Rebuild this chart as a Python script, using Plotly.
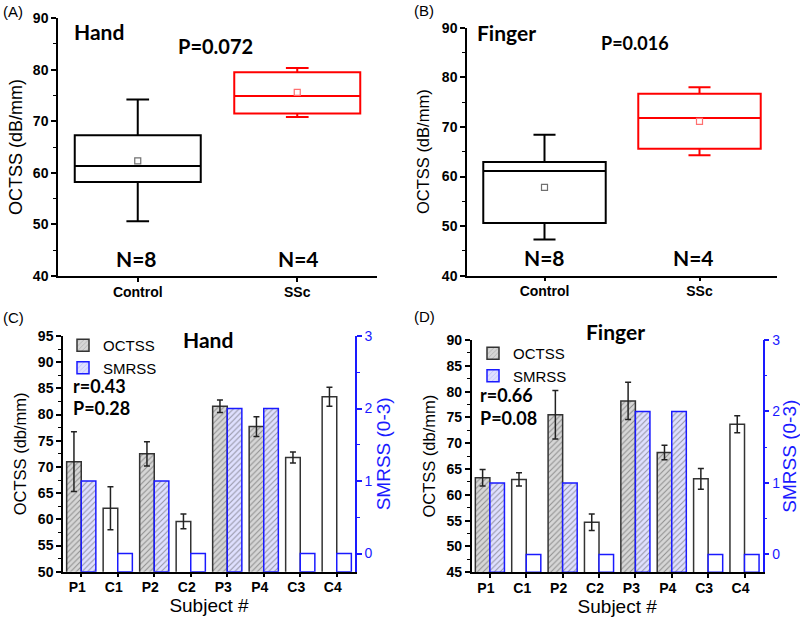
import plotly.graph_objects as go

W, H = 800, 618

# ---------------- Data ----------------
groups = ["Control", "SSc"]
# Panel A (Hand) box stats
hand_q1 = [58.2, 71.5]
hand_median = [61.3, 74.9]
hand_q3 = [67.3, 79.5]
hand_low = [50.6, 70.8]
hand_high = [74.2, 80.3]
hand_mean = [62.3, 75.6]
# Panel B (Finger) box stats
finger_q1 = [50.6, 65.6]
finger_median = [61.1, 71.8]
finger_q3 = [62.9, 76.7]
finger_low = [47.3, 64.3]
finger_high = [68.4, 78.0]
finger_mean = [57.8, 71.1]

subjects = ["P1", "C1", "P2", "C2", "P3", "P4", "C3", "C4"]
hand_octss = [71.0, 62.1, 72.5, 59.6, 81.6, 77.7, 71.8, 83.4]
hand_octss_err = [5.7, 4.1, 2.3, 1.4, 1.2, 1.9, 1.05, 1.8]
hand_smrss = [1, 0, 1, 0, 2, 2, 0, 0]
finger_octss = [63.3, 63.0, 75.5, 54.7, 78.2, 68.2, 63.1, 73.7]
finger_octss_err = [1.6, 1.3, 4.7, 1.6, 3.6, 1.4, 2.0, 1.65]
finger_smrss = [1, 0, 1, 0, 2, 2, 0, 0]

SMRSS_BASE = -0.25

def px_x(p):
    return p / W

def px_y(p):
    return 1 - p / H

fig = go.Figure()

ARIAL = "Liberation Sans, Arial, sans-serif"
BOLDF = "Lato, Liberation Sans, sans-serif"

box_colors = ["#000000", "#ff0000"]
mean_colors = ["#707070", "#ff7070"]

def add_boxes(xa, ya, q1, med, q3, lo, hi, mean):
    for i, g in enumerate(groups):
        fig.add_trace(go.Box(
            x=[g], q1=[q1[i]], median=[med[i]], q3=[q3[i]],
            lowerfence=[lo[i]], upperfence=[hi[i]],
            width=0.79, whiskerwidth=0.18,
            line=dict(color=box_colors[i], width=2),
            fillcolor="rgba(0,0,0,0)", boxpoints=False,
            xaxis=xa, yaxis=ya, showlegend=False, hoverinfo="skip"))
        fig.add_trace(go.Scatter(
            x=[g], y=[mean[i]], mode="markers",
            marker=dict(symbol="square-open", size=6, color=mean_colors[i], line=dict(width=1.2)),
            xaxis=xa, yaxis=ya, showlegend=False, hoverinfo="skip"))

add_boxes("x", "y", hand_q1, hand_median, hand_q3, hand_low, hand_high, hand_mean)
add_boxes("x2", "y2", finger_q1, finger_median, finger_q3, finger_low, finger_high, finger_mean)

def add_bars(xa, ya, ya2, octss, err, smrss, legend):
    is_p = [s.startswith("P") for s in subjects]
    fig.add_trace(go.Bar(
        x=subjects, y=octss, width=0.4, offset=-0.4,
        error_y=dict(type="data", array=err, color="#222222", thickness=1.5, width=3),
        marker=dict(
            color=["#d6d6d6" if p else "#ffffff" for p in is_p],
            line=dict(color="#333333", width=1.5),
            pattern=dict(shape=["/" if p else "" for p in is_p], fillmode="overlay",
                         fgcolor="#8a8a8a", size=4, solidity=0.25)),
        name="OCTSS", xaxis=xa, yaxis=ya, legend=legend, hoverinfo="skip"))
    fig.add_trace(go.Bar(
        x=subjects, y=[v - SMRSS_BASE for v in smrss], base=SMRSS_BASE, width=0.4, offset=0,
        marker=dict(
            color=["#dfe0ff" if v > 0 else "#ffffff" for v in smrss],
            line=dict(color="#1a1aff", width=1.5),
            pattern=dict(shape=["/" if v > 0 else "" for v in smrss], fillmode="overlay",
                         fgcolor="#9aa0f0", size=4, solidity=0.25)),
        name="SMRSS", xaxis=xa, yaxis=ya2, legend=legend, hoverinfo="skip"))

add_bars("x3", "y3", "y5", hand_octss, hand_octss_err, hand_smrss, "legend")
add_bars("x4", "y4", "y6", finger_octss, finger_octss_err, finger_smrss, "legend2")

tickf = dict(family=ARIAL, size=14, color="black", weight="bold")

def xax(dom, anchor, ncat, title=None, shift=0):
    d = dict(domain=dom, anchor=anchor, type="category", range=[-0.5, ncat - 0.5],
             showline=True, linecolor="black", linewidth=1.5, ticks="outside",
             ticklen=4, tickwidth=1.5, tickcolor="black", tickfont=tickf,
             ticklabelshift=shift, ticklabelstandoff=-2,
             showgrid=False, zeroline=False, fixedrange=True, automargin=False)
    if title:
        d["title"] = dict(text=title, font=dict(family=ARIAL, size=19, color="black"), standoff=0)
    return d

def yax(dom, anchor, rng, dtick, minor_dtick, title, tsize, standoff):
    return dict(domain=dom, anchor=anchor, range=rng, dtick=dtick, tick0=0,
                showline=True, linecolor="black", linewidth=1.5, ticks="outside",
                ticklen=5, tickwidth=1.5, tickcolor="black", tickfont=tickf,
                minor=dict(dtick=minor_dtick, ticks="outside", ticklen=3, tickwidth=1.2,
                           tickcolor="black"),
                showgrid=False, zeroline=False, fixedrange=True, automargin=False,
                title=dict(text=title, font=dict(family=ARIAL, size=tsize, color="black"),
                           standoff=standoff))

BLUE = "#1a1aff"
def yax_right(dom, overlay, anchor):
    return dict(domain=dom, overlaying=overlay, anchor=anchor, side="right",
                range=[SMRSS_BASE, 3], dtick=1, tick0=0,
                showline=True, linecolor=BLUE, linewidth=1.5, ticks="outside",
                ticklen=5, tickwidth=1.5, tickcolor=BLUE,
                tickfont=dict(family=ARIAL, size=14, color=BLUE),
                minor=dict(dtick=0.5, ticks="outside", ticklen=3, tickwidth=1.2, tickcolor=BLUE),
                showgrid=False, zeroline=False, fixedrange=True, automargin=False,
                title=dict(text="SMRSS (0-3)", font=dict(family=ARIAL, size=19, color=BLUE),
                           standoff=4))

xA = [px_x(58), px_x(377)]; yA = [px_y(276), px_y(18)]
xB = [px_x(467), px_x(777)]; yB = [px_y(275.7), px_y(27.7)]
xC = [px_x(63), px_x(355)]; yC = [px_y(571.7), px_y(336)]
xD = [px_x(471.7), px_x(762.7)]; yD = [px_y(572.3), px_y(340)]

legfont = dict(family=ARIAL, size=15, color="black")
fig.update_layout(
    width=W, height=618, margin=dict(l=0, r=0, t=0, b=0, autoexpand=False),
    paper_bgcolor="white", plot_bgcolor="rgba(0,0,0,0)",
    barmode="overlay", bargap=0.2,
    xaxis=xax(xA, "y", 2), yaxis=yax(yA, "x", [40, 90], 10, 5, "OCTSS (dB/mm)", 18, 6),
    xaxis2=xax(xB, "y2", 2), yaxis2=yax(yB, "x2", [40, 90], 10, 5, "OCTSS (dB/mm)", 16.5, 8),
    xaxis3=xax(xC, "y3", 8, "Subject #", -4),
    yaxis3=yax(yC, "x3", [50, 95], 5, 2.5, "OCTSS (db/mm)", 16.5, 7),
    xaxis4=xax(xD, "y4", 8, "Subject #", -4),
    yaxis4=yax(yD, "x4", [45, 90], 5, 2.5, "OCTSS (db/mm)", 16.5, 7),
    yaxis5=yax_right(yC, "y3", "x3"),
    yaxis6=yax_right(yD, "y4", "x4"),
    legend=dict(x=px_x(63), y=px_y(329), xanchor="left", yanchor="top",
                bgcolor="rgba(0,0,0,0)", font=legfont, tracegroupgap=0, itemwidth=30),
    legend2=dict(x=px_x(473), y=px_y(337), xanchor="left", yanchor="top",
                 bgcolor="rgba(0,0,0,0)", font=legfont, tracegroupgap=0, itemwidth=30),
)

def ann(x, y, text, size, bold=True, xanchor="center", family=None, color="black"):
    fig.add_annotation(x=px_x(x), y=px_y(y), xref="paper", yref="paper",
                       text=text, showarrow=False, xanchor=xanchor, yanchor="middle",
                       font=dict(family=family or (BOLDF if bold else ARIAL), size=size,
                                 color=color, weight="bold" if bold else "normal"))

# panel labels
ann(1, 12, "(A)", 15, bold=False, xanchor="left")
ann(412, 11, "(B)", 15, bold=False, xanchor="left")
ann(1, 317, "(C)", 15, bold=False, xanchor="left")
ann(412, 316, "(D)", 15, bold=False, xanchor="left")

# A
ann(72, 31, "Hand", 21, xanchor="left")
ann(215, 46, "P=0.072", 20)
ann(136, 258, "N=8", 21)
ann(298, 258, "N=4", 21)
# B
ann(475, 33, "Finger", 21, xanchor="left")
ann(635, 43, "P=0.016", 18)
ann(544, 257, "N=8", 21)
ann(693, 257, "N=4", 21)
# C
ann(208, 339, "Hand", 21)
ann(71, 386, "r=0.43", 18, xanchor="left")
ann(71, 408, "P=0.28", 18, xanchor="left")
# D
ann(615, 332, "Finger", 21)
ann(478, 395, "r=0.66", 18, xanchor="left")
ann(478, 418, "P=0.08", 18, xanchor="left")

fig.write_html(
    "out.html",
    config={"displayModeBar": False},
    post_script="document.body.style.margin='0';document.body.style.padding='0';"
                "document.body.style.overflow='hidden';",
)
